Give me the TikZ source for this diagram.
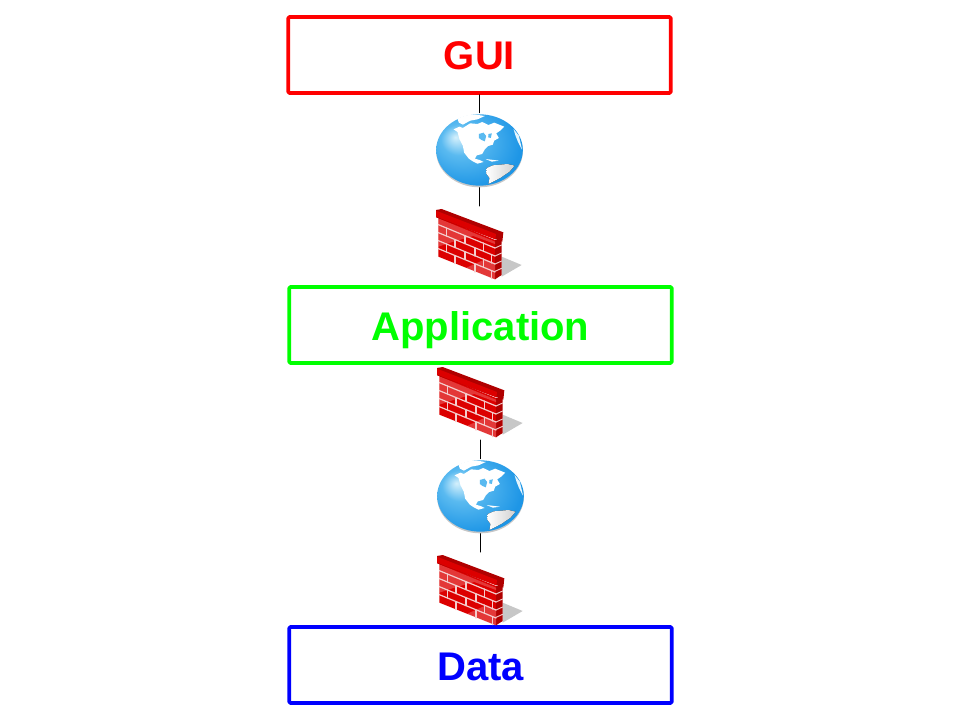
\documentclass[tikz,border=0pt]{standalone}
\usepackage{fontspec}
\setmainfont{Liberation Sans}
\definecolor{gloA}{HTML}{D4F0FC}
\definecolor{gloB}{HTML}{5ABAF0}
\definecolor{gloC}{HTML}{1E96E6}
\definecolor{gloD}{HTML}{1173BC}
\definecolor{brickA}{HTML}{DC0000}
\definecolor{brickB}{HTML}{B00000}
\definecolor{brickC}{HTML}{F4CCCC}
\pgfdeclareradialshading{gloshade}{\pgfpoint{-14bp}{9bp}}{color(0bp)=(gloA); color(11bp)=(gloB); color(30bp)=(gloC); color(44bp)=(gloC); color(56bp)=(gloD)}
\tikzset{
	tier/.style={draw=#1,text=#1,line width=2.8pt,rounded corners=1pt,minimum width=287pt,minimum height=57pt,inner sep=0pt,text height=22.5pt,text depth=0pt,font=\fontsize{30}{30}\selectfont\bfseries},
	netnode/.style={minimum width=66pt,minimum height=55.5pt,inner sep=0pt},
	pics/netglobe/.style={code={
		\begin{scope}[scale=1/3,shift={(-178,-178)}]
		\fill [black!22] (178,182) ellipse (130 and 108);
		\path [shading=gloshade] (178,178) ellipse (130 and 107);
		% north america
		\fill [white] (100,116)--(118,108)--(128,112)--(150,98)--(172,100)--(186,94)--(205,103)--(222,96)--(252,108)--(240,120)--(228,128)--(236,142)--(222,150)--(218,162)--(204,166)--(194,176)--(186,190)--(170,194)--(164,204)--(178,208)--(190,214)--(172,219)--(158,212)--(146,204)--(132,186)--(128,165)--(118,146)--(112,124)--cycle;
		\fill [gloB] (176,130)--(190,126)--(198,136)--(194,152)--(184,148)--(176,142)--cycle;
		\fill [gloB] (205,130)--(215,128)--(212,142)--(204,140)--cycle;
		% greenland and the arctic
		\fill [white] (112,84)--(138,74)--(168,72)--(194,76)--(172,86)--(150,90)--(128,102)--(116,96)--cycle;
		\fill [white!85!gloB] (280,115)--(296,135)--(306,178)--(294,155)--(286,135)--cycle;
		\fill [white] (196,205)--(236,210)--(215,213)--cycle;
		% south america
		\fill [left color=white,right color=black!18] (200,232)--(218,224)--(240,222)--(262,220)--(283,225)--(268,243)--(240,262)--(205,280)--(208,262)--(198,248)--cycle;
		\end{scope}
	}},
	pics/brickwall/.style={code={
		\begin{scope}[scale=1/3]
		\fill [black!22] (245,170)--(305,195)--(245,230)--cycle;
		\fill [brickA] (55,50)--(225,120)--(225,238)--(55,170)--cycle;
		\fill [brickB] (225,120)--(245,120)--(245,225)--(225,238)--cycle;
		\fill [white,opacity=.22] (55,55)--(225,125)--(225,132)--(160,108)--(100,125)--(55,140)--cycle;
		\fill [white,opacity=.22] (135,205)--(195,178)--(225,190)--(225,238)--cycle;
		\foreach \r in {74,98,122,146} \draw [brickC,line width=.9pt] (55,\r)--(225,\r+70);
		\foreach \r in {144,168,192,214} \draw [brickC,line width=.7pt] (225,\r)--(245,\r-9);
		\foreach \u/\v in {80/84,135/107,190/129,105/119,165/144,215/165,80/132,135/155,190/177,105/167,165/192,215/212} \draw [brickC,line width=.9pt] (\u,\v)--(\u,\v+24);
		\fill [brickB] (48,30)--(65,27)--(250,97)--(247,125)--(48,52)--cycle;
		\fill [brickA] (48,32)--(228,102)--(226,118)--(48,50)--cycle;
		\end{scope}
	}}
}
\begin{document}
\begin{tikzpicture}[line cap=round,line join=round,x=0.75pt,y=-0.75pt]
	\useasboundingbox (0,0) rectangle (960,720);
	\node (gui) [tier=red] at (479.5,55) {GUI};
	\node (app) [tier=green] at (480.5,325) {Application};
	\node (data) [tier=blue] at (480.5,665) {Data};
	\node (netTop) [netnode] at (479.5,150) {};
	\node (netBot) [netnode] at (480.5,496) {};
	\coordinate (wallTop) at (479.5,206);
	\coordinate (wallMid) at (480.5,440);
	\coordinate (wallBot) at (480.5,552);
	\draw [line width=.75pt] (gui)-- (netTop);
	\draw [line width=.75pt] (netTop)-- (wallTop);
	\draw [line width=.75pt] (wallMid)-- (netBot);
	\draw [line width=.75pt] (netBot)-- (wallBot);
	\pic at (netTop) {netglobe};
	\pic at (netBot) {netglobe};
	\pic at (420,200) {brickwall};
	\pic at (421,358) {brickwall};
	\pic at (421,546) {brickwall};
\end{tikzpicture}
\end{document}
